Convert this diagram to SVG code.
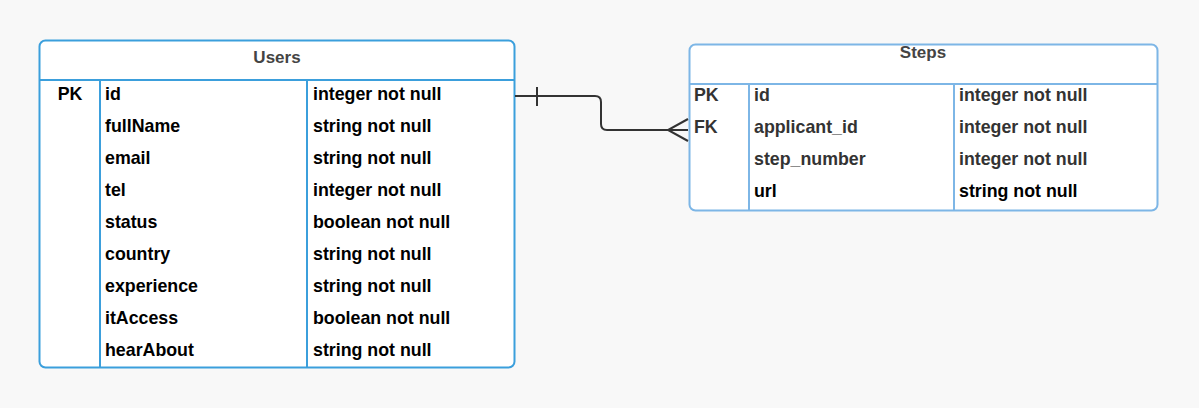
<svg xmlns="http://www.w3.org/2000/svg" width="1199" height="408" viewBox="0 0 1199 408">
<style>
.t{font-family:"Liberation Sans",Arial,sans-serif;font-weight:bold;font-size:17.8px;fill:#000}
.g{fill:#333}
.h{font-family:"Liberation Sans",Arial,sans-serif;font-weight:bold;font-size:17px;fill:#444;text-anchor:middle}
.u{fill:#fff;stroke:#3b9fdc;stroke-width:2}
.ul{stroke:#3b9fdc;stroke-width:2;fill:none}
.s{fill:#fff;stroke:#7db6e6;stroke-width:2}
.sl{stroke:#7db6e6;stroke-width:2;fill:none}
.c{stroke:#333;stroke-width:2;fill:none}
</style>
<rect width="1199" height="408" fill="#f8f8f8"/>
<g id="users">
<rect class="u" x="39.5" y="40.5" width="475" height="327" rx="6"/>
<line class="ul" x1="39.5" y1="80" x2="514.5" y2="80"/>
<line class="ul" x1="100" y1="80" x2="100" y2="367.5"/>
<line class="ul" x1="307" y1="80" x2="307" y2="367.5"/>
<text class="h" x="277" y="63">Users</text>
<text class="t" x="70" y="100" text-anchor="middle">PK</text>
<text class="t" x="105" y="100">id</text>
<text class="t" x="105" y="132">fullName</text>
<text class="t" x="105" y="164">email</text>
<text class="t" x="105" y="196">tel</text>
<text class="t" x="105" y="228">status</text>
<text class="t" x="105" y="260">country</text>
<text class="t" x="105" y="292">experience</text>
<text class="t" x="105" y="324">itAccess</text>
<text class="t" x="105" y="356">hearAbout</text>
<text class="t" x="313" y="100">integer not null</text>
<text class="t" x="313" y="132">string not null</text>
<text class="t" x="313" y="164">string not null</text>
<text class="t" x="313" y="196">integer not null</text>
<text class="t" x="313" y="228">boolean not null</text>
<text class="t" x="313" y="260">string not null</text>
<text class="t" x="313" y="292">string not null</text>
<text class="t" x="313" y="324">boolean not null</text>
<text class="t" x="313" y="356">string not null</text>
</g>
<g id="steps">
<rect class="s" x="689.5" y="44.5" width="468" height="166" rx="6"/>
<line class="sl" x1="689.5" y1="84" x2="1157.5" y2="84"/>
<line class="sl" x1="749" y1="84" x2="749" y2="210.5"/>
<line class="sl" x1="954" y1="84" x2="954" y2="210.5"/>
<text class="h" x="923" y="58">Steps</text>
<text class="t g" x="694" y="101">PK</text>
<text class="t g" x="694" y="133">FK</text>
<text class="t g" x="754" y="101">id</text>
<text class="t g" x="754" y="133">applicant_id</text>
<text class="t g" x="754" y="165">step_number</text>
<text class="t" x="754" y="197">url</text>
<text class="t g" x="959" y="101">integer not null</text>
<text class="t g" x="959" y="133">integer not null</text>
<text class="t g" x="959" y="165">integer not null</text>
<text class="t" x="959" y="197">string not null</text>
</g>
<g id="connectors">
<path class="c" d="M515 96 H595 Q601 96 601 102 V124 Q601 130 607 130 H688"/>
<line class="c" x1="537" y1="87" x2="537" y2="106"/>
<path class="c" d="M688 119 L668 130 L688 141"/>
</g>
</svg>
